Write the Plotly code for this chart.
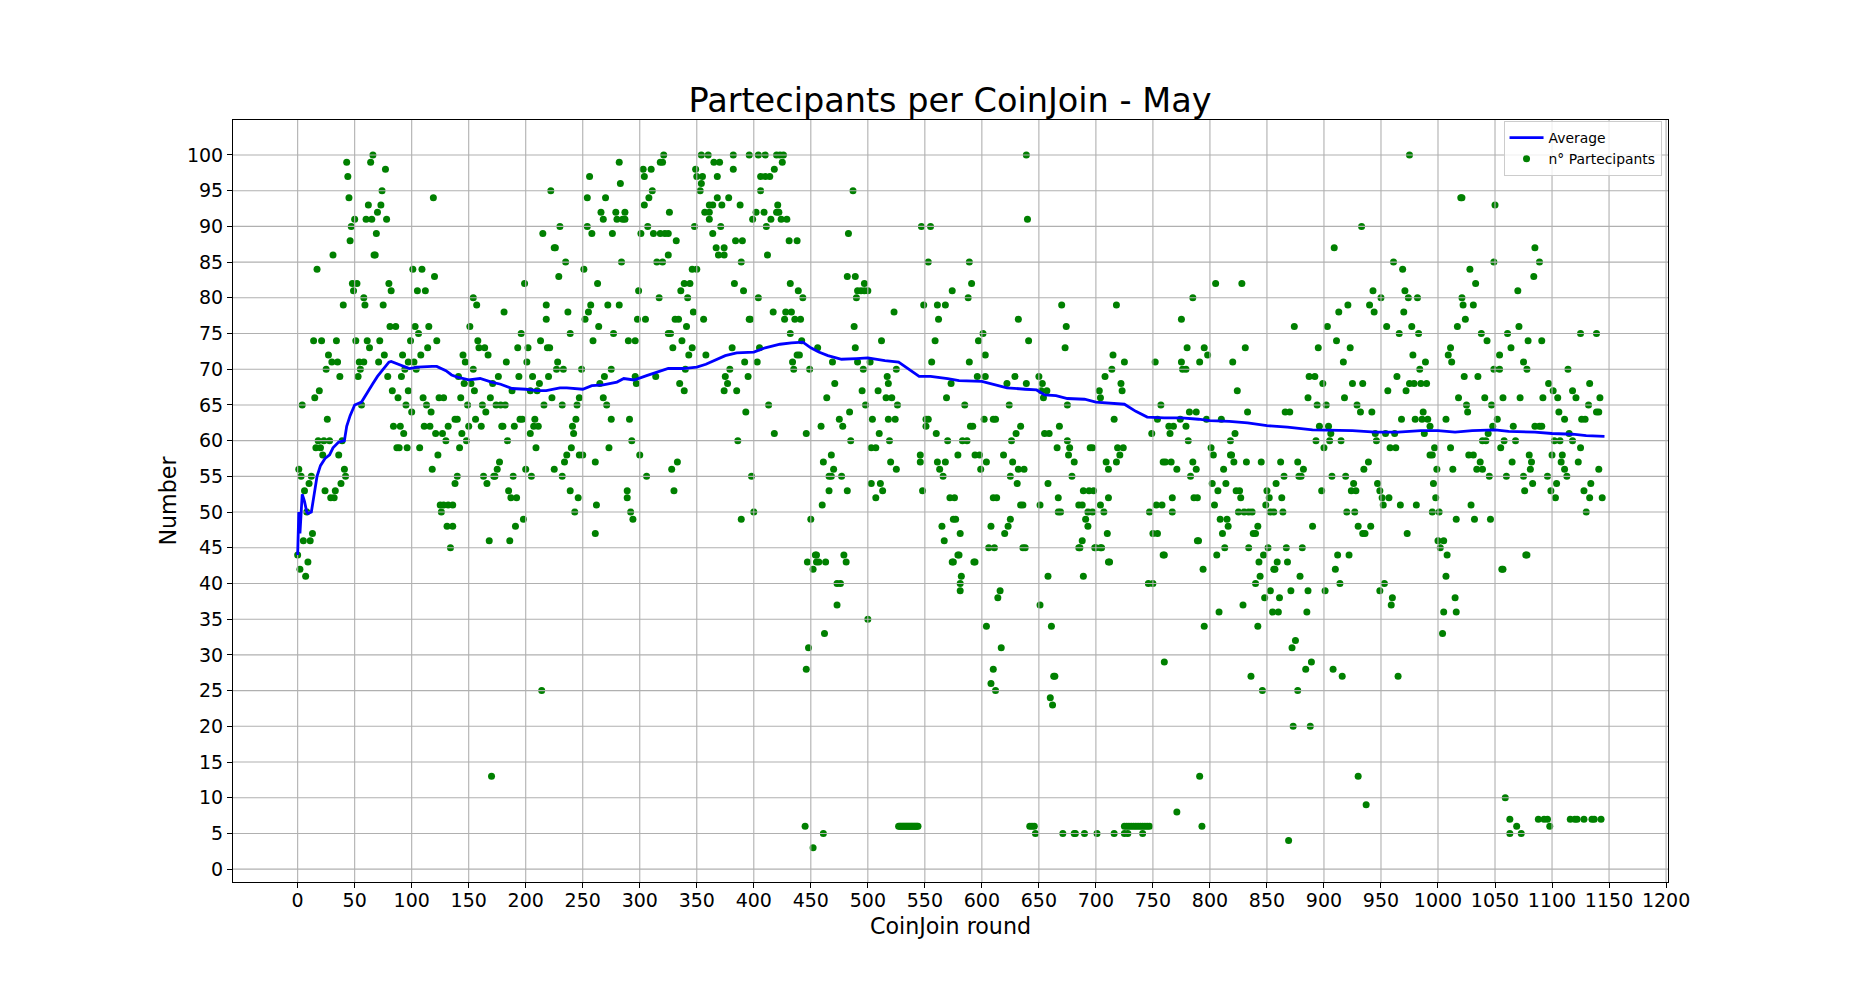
import plotly.graph_objects as go

# Rounds at which each participant count was observed (r<count>)
r100 = [66,321,354,360,382,396,404,410,420,423,426,639,975]
r99 = [43,64,282,318,320,365,370,425]
r98 = [77,303,310,349,382,418]
r97 = [44,256,304,350,355,368,406,410,414]
r96 = [283,354]
r95 = [74,222,311,353,406,487]
r94 = [45,119,254,270,308,368,378,1020,1021]
r93 = [62,73,304,361,364,372,388,421,1050]
r92 = [70,266,279,287,326,357,361,402,409,420,422]
r91 = [50,60,65,78,268,280,285,287,361,399,415,424,429,640]
r90 = [47,230,254,307,348,371,411,547,555,933]
r89 = [69,215,258,276,301,312,318,322,325,364,483]
r88 = [46,332,384,390,431,438]
r87 = [225,226,367,374,909,1085]
r86 = [31,67,68,325,369,374,412]
r85 = [235,284,315,320,389,553,589,961,1049,1089]
r84 = [17,101,109,251,346,350,969,1028]
r83 = [120,229,482,489,1084]
r82 = [48,52,80,199,263,339,344,383,432,497,591,805,828,1033]
r81 = [49,82,105,112,299,336,391,439,491,494,497,500,574,943,971,1070]
r80 = [58,154,317,342,404,443,490,588,785,950,974,982,1021]
r79 = [40,59,75,157,218,257,272,282,549,561,568,670,718,921,940,1022,1031]
r78 = [181,237,255,347,417,428,433,523,913,944,970]
r77 = [218,252,298,305,331,334,356,396,397,427,436,441,562,632,775,1024]
r76 = [81,86,103,115,151,264,341,488,674,874,903,955,977,1017,1071]
r75 = [106,196,239,277,325,327,432,601,966,983,1038,1061,1125,1139]
r74 = [14,21,34,51,61,72,99,122,158,213,259,290,296,337,442,512,559,597,641,911,1043,1079,1091]
r73 = [63,114,159,164,193,202,219,221,329,346,381,405,456,489,673,780,795,831,895,923,1011,1064]
r72 = [27,76,92,108,145,167,343,358,438,440,603,715,798,978,1009,1054]
r71 = [30,35,54,58,71,97,102,147,183,201,228,392,403,434,469,491,502,556,589,725,752,775,791,820,917,989,1012,1075]
r70 = [25,55,94,104,154,227,233,249,275,340,379,435,449,496,525,714,776,779,984,1049,1054,1078,1114]
r69 = [37,53,79,91,141,176,194,206,220,269,296,314,375,395,517,596,603,629,650,708,887,892,964,1023,1035]
r68 = [146,152,171,212,265,297,335,377,471,518,573,622,639,653,722,899,925,934,975,979,985,990,1097,1133]
r67 = [19,83,97,155,188,204,210,339,374,385,495,509,652,657,703,723,824,956,972,1101,1118]
r66 = [15,88,110,124,128,143,169,223,247,268,464,516,521,569,654,704,886,918,1018,1041,1057,1072,1092,1105,1121,1142]
r65 = [4,56,95,113,149,162,174,178,182,216,232,245,271,413,498,526,585,624,675,757,894,902,929,1025,1047,1132]
r64 = [100,117,165,393,484,782,788,833,866,870,932,942,987,1026,1106,1139,1141]
r63 = [26,138,140,156,195,197,208,244,275,291,475,504,518,524,551,553,602,610,612,716,754,774,797,810,968,980,986,991,1007,1052,1111,1126,1129]
r62 = [84,90,111,116,132,150,161,179,180,190,207,211,241,459,478,551,590,592,634,668,764,768,779,896,904,993,1048,1066,1085,1089,1091]
r61 = [93,121,127,144,204,242,418,446,510,560,630,655,659,749,765,822,906,945,954,962,988,1044,1115]
r60 = [18,23,28,39,130,148,184,293,386,485,519,570,583,587,626,675,781,818,893,905,915,946,1039,1042,1058,1068,1102,1107,1118]
r59 = [16,20,87,89,96,107,142,209,240,273,503,507,666,677,695,697,719,724,801,900,958,963,997,1011,1055,1125]
r58 = [22,36,123,236,247,250,300,468,546,579,594,598,619,676,721,803,818,819,993,995,1027,1031,1080,1100,1109]
r57 = [177,234,261,333,461,520,546,561,568,604,627,681,709,718,759,761,766,785,821,832,845,862,877,939,1037,1065,1082,1108,1123]
r56 = [1,41,118,175,200,225,328,470,525,563,599,632,637,711,771,788,812,882,935,999,1013,1034,1039,1081,1111,1141]
r55 = [3,12,42,140,163,172,173,189,205,232,306,398,466,468,477,566,625,679,783,865,878,880,907,919,1045,1060,1075,1096,1113]
r54 = [10,38,138,166,503,511,631,658,802,814,858,926,947,996,1083,1104,1134]
r53 = [6,24,33,185,239,289,330,466,482,513,548,689,694,698,807,823,826,850,898,924,928,949,1076,1099,1128]
r52 = [29,32,187,192,246,289,507,572,576,610,613,667,711,767,786,789,827,852,863,951,957,998,1103,1133,1144]
r51 = [125,128,132,136,262,460,634,636,651,685,688,704,753,758,804,849,952,967,981,1029]
r50 = [8,126,243,292,400,667,669,693,697,707,747,767,825,830,834,837,853,856,864,920,927,995,1001,1130]
r49 = [198,294,389,450,575,577,625,691,809,815,1016,1032,1046]
r48 = [131,136,191,565,608,623,693,816,842,890,930,941]
r47 = [13,261,581,620,710,750,754,811,838,840,934,936,973]
r46 = [5,11,168,186,567,688,789,790,1000,1005]
r45 = [134,606,611,636,638,685,686,699,700,704,705,813,834,851,867,881,1002]
r44 = [0,454,455,479,579,580,759,760,806,847,912,922,1008,1077,1078]
r43 = [9,447,455,457,463,481,574,575,593,594,711,712,843,859,868]
r42 = [2,452,794,856,857,910,1056,1057]
r41 = [7,582,658,689,844,879,1007]
r40 = [473,476,581,746,750,840,914,953]
r39 = [581,616,853,871,886,901,949]
r38 = [614,848,861,960,1015]
r37 = [473,651,829,959]
r36 = [808,855,860,885,1005,1016]
r35 = [500]
r34 = [604,661,795,842]
r33 = [462,1004]
r32 = [875]
r31 = [448,617,872]
r29 = [760,889]
r28 = [446,610,884,908]
r27 = [663,664,836,916,965]
r26 = [608]
r25 = [214,612,846,877]
r24 = [660]
r23 = [662]
r20 = [873,888]
r13 = [170,791,930]
r10 = [1059]
r9 = [937]
r8 = [771]
r7 = [1063,1088,1093,1096,1116,1120,1122,1128,1135,1137,1143]
r6 = [445,527,528,529,530,531,532,533,534,535,536,537,538,539,540,541,542,543,544,642,644,646,725,727,729,731,733,735,737,739,741,743,745,747,793,1069,1098]
r5 = [461,647,671,681,682,690,701,716,725,728,741,1063,1073]
r4 = [869]
r3 = [452]

avg_rounds = [0,1,2,3,4,5,6,8,9,12,14,15,17,20,24,28,31,36,41,43,46,50,56,60,66,70,75,80,82,90,98,105,112,118,122,130,135,140,150,160,170,178,188,200,210,218,230,236,250,258,268,280,286,295,306,315,325,338,350,358,365,375,385,400,410,423,433,443,450,457,465,477,490,500,515,527,545,555,570,580,600,610,622,638,648,655,665,675,690,700,715,725,735,745,760,775,790,800,817,833,850,868,890,900,925,945,965,985,1000,1015,1030,1050,1062,1085,1100,1118,1130,1146]
avg_values = [44,50,47,50,52.5,52,51.5,50,49.8,50,52.5,53,55,56.5,57.5,58,59,59.8,60,62,63.5,65,65.4,66.5,68,69,70,71,71.1,70.6,70.1,70.3,70.4,70.4,70.4,69.8,69.2,68.9,68.5,68.7,68.2,67.9,67.3,67.2,67,67,67.4,67.4,67.2,67.7,67.8,68.2,68.7,68.5,69.1,69.6,70.1,70.1,70.3,70.7,71.2,71.9,72.3,72.4,73,73.5,73.7,73.8,73,72.4,71.9,71.4,71.5,71.6,71.2,71,69,69,68.7,68.4,68.3,67.9,67.4,67.2,67.1,66.4,66.3,65.9,65.8,65.4,65.2,65.1,64.1,63.3,63.2,63.2,63,62.8,62.7,62.5,62.1,61.9,61.5,61.5,61.4,61.2,61.2,61.4,61.4,61.2,61.4,61.5,61.3,61.2,61,60.9,60.7,60.6]

x_ticks = list(range(0, 1201, 50))
y_ticks = list(range(0, 101, 5))
x_range = [-56.7, 1201.7]
y_range = [-1.8, 104.9]

rounds, participants = [], []
for level in range(3, 101):
    for r in sorted(set(globals().get(f"r{level}", []))):
        rounds.append(r)
        participants.append(level)

grid_x, grid_y = [], []
for t in x_ticks:
    grid_x += [t, t, None]
    grid_y += [y_range[0], y_range[1], None]
for t in y_ticks:
    grid_x += [x_range[0], x_range[1], None]
    grid_y += [t, t, None]

GRID = "#b0b0b0"
fig = go.Figure()
fig.add_trace(go.Scatter(x=rounds, y=participants, mode="markers", name="n° Partecipants",
                         marker=dict(color="#008000", size=7), legendrank=2))
fig.add_trace(go.Scatter(x=grid_x, y=grid_y, mode="lines", line=dict(color=GRID, width=1.1),
                         showlegend=False, hoverinfo="skip"))
fig.add_trace(go.Scatter(x=avg_rounds, y=avg_values, mode="lines", name="Average",
                         line=dict(color="#0000ff", width=2.8), legendrank=1))

axis = dict(showgrid=False, zeroline=False, showline=True, mirror=True, linecolor="black", linewidth=1.1,
            ticks="outside", ticklen=5, tickwidth=1.1, tickcolor="black", tickfont=dict(size=19))
fig.update_layout(
    width=1853, height=991, autosize=False,
    margin=dict(l=233, r=185, t=120, b=109),
    paper_bgcolor="white", plot_bgcolor="white",
    font=dict(family="DejaVu Sans", color="black"),
    title=dict(text="Partecipants per CoinJoin - May", font=dict(size=33.5), x=950/1853, xanchor="center",
               y=1-100/991, yanchor="middle"),
    legend=dict(x=0.9955, y=0.9985, xanchor="right", yanchor="top", bgcolor="rgba(255,255,255,0.8)",
                bordercolor="#cccccc", borderwidth=1, font=dict(size=13.9), itemwidth=34),
)
fig.update_xaxes(axis, tickvals=x_ticks, range=x_range, tickangle=0, ticklabelstandoff=-4,
                 title=dict(text="CoinJoin round", font=dict(size=22.2), standoff=8))
fig.update_yaxes(axis, tickvals=y_ticks, range=y_range,
                 title=dict(text="Number", font=dict(size=22.2), standoff=4))
fig.write_html("out.html", config=dict(displayModeBar=False),
               post_script="document.body.style.margin='0';")
